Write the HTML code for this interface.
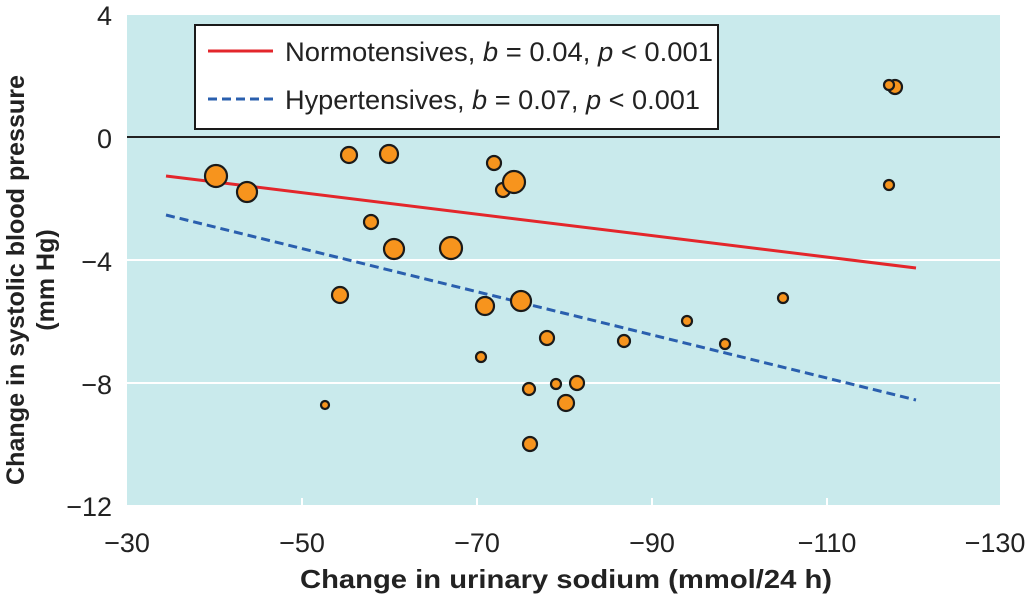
<!DOCTYPE html>
<html><head><style>body{margin:0;background:#fff}svg{display:block}</style></head><body>
<svg width="1025" height="596" viewBox="0 0 1025 596" xmlns="http://www.w3.org/2000/svg" font-family="Liberation Sans, sans-serif">
<rect x="127" y="15" width="873" height="490" fill="#c9eaec"/>
<line x1="127" y1="260" x2="1000" y2="260" stroke="#fff" stroke-width="2"/>
<line x1="127" y1="383" x2="1000" y2="383" stroke="#fff" stroke-width="2"/>
<g stroke="#fff" stroke-width="2"><line x1="302" y1="498" x2="302" y2="505"/><line x1="477" y1="498" x2="477" y2="505"/><line x1="652" y1="498" x2="652" y2="505"/><line x1="827" y1="498" x2="827" y2="505"/></g>
<line x1="127" y1="137" x2="1000" y2="137" stroke="#222" stroke-width="2"/>
<line x1="166" y1="176" x2="916" y2="268" stroke="#e3262b" stroke-width="3"/>
<line x1="166" y1="215" x2="916" y2="400" stroke="#2a5fae" stroke-width="3" stroke-dasharray="9,5"/>
<g fill="#f7941d" stroke="#1a1a1a" stroke-width="2.2">
<circle cx="216" cy="176" r="11"/><circle cx="247" cy="192" r="10"/><circle cx="349" cy="155" r="8"/><circle cx="389" cy="154" r="9"/><circle cx="494" cy="163" r="7"/><circle cx="503" cy="190" r="7"/><circle cx="514" cy="182" r="11"/><circle cx="371" cy="222" r="7"/><circle cx="394" cy="249" r="10"/><circle cx="451" cy="248" r="11"/><circle cx="340" cy="295" r="8"/><circle cx="485" cy="306" r="9"/><circle cx="521" cy="301" r="10"/><circle cx="547" cy="338" r="7"/><circle cx="624" cy="341" r="6"/><circle cx="687" cy="321" r="5"/><circle cx="725" cy="344" r="5"/><circle cx="783" cy="298" r="5"/><circle cx="481" cy="357" r="5"/><circle cx="325" cy="405" r="4"/><circle cx="529" cy="389" r="6"/><circle cx="556" cy="384" r="5"/><circle cx="577" cy="383" r="7"/><circle cx="566" cy="403" r="8"/><circle cx="530" cy="444" r="7"/><circle cx="895" cy="87" r="7"/><circle cx="889" cy="85" r="5"/><circle cx="889" cy="185" r="5"/>
</g>
<rect x="195" y="25" width="523" height="104" fill="#fff" stroke="#1a1a1a" stroke-width="2"/>
<line x1="208" y1="51" x2="273" y2="51" stroke="#e3262b" stroke-width="3"/>
<line x1="208" y1="99" x2="273" y2="99" stroke="#2a5fae" stroke-width="3" stroke-dasharray="9,5"/>
<g font-size="27" fill="#222">
<text x="285" y="61" textLength="428" lengthAdjust="spacingAndGlyphs">Normotensives, <tspan font-style="italic">b</tspan> = 0.04, <tspan font-style="italic">p</tspan> &lt; 0.001</text>
<text x="285" y="109" textLength="415" lengthAdjust="spacingAndGlyphs">Hypertensives, <tspan font-style="italic">b</tspan> = 0.07, <tspan font-style="italic">p</tspan> &lt; 0.001</text>
</g>
<g font-size="27" fill="#222" text-anchor="end">
<text x="112" y="25">4</text><text x="112" y="148">0</text><text x="112" y="271">−4</text><text x="112" y="394">−8</text><text x="112" y="516">−12</text>
</g>
<g font-size="27" fill="#222" text-anchor="middle">
<text x="127" y="552">−30</text><text x="302" y="552">−50</text><text x="477" y="552">−70</text><text x="652" y="552">−90</text><text x="827" y="552">−110</text><text x="995" y="552">−130</text>
</g>
<text x="566" y="588" font-size="26" font-weight="bold" fill="#222" text-anchor="middle" textLength="532" lengthAdjust="spacingAndGlyphs">Change in urinary sodium (mmol/24 h)</text>
<g transform="translate(24,280) rotate(-90)" font-size="25" font-weight="bold" fill="#222" text-anchor="middle">
<text x="0" y="0" textLength="410" lengthAdjust="spacingAndGlyphs">Change in systolic blood pressure</text>
<text x="0" y="30">(mm Hg)</text>
</g>
</svg>
</body></html>
